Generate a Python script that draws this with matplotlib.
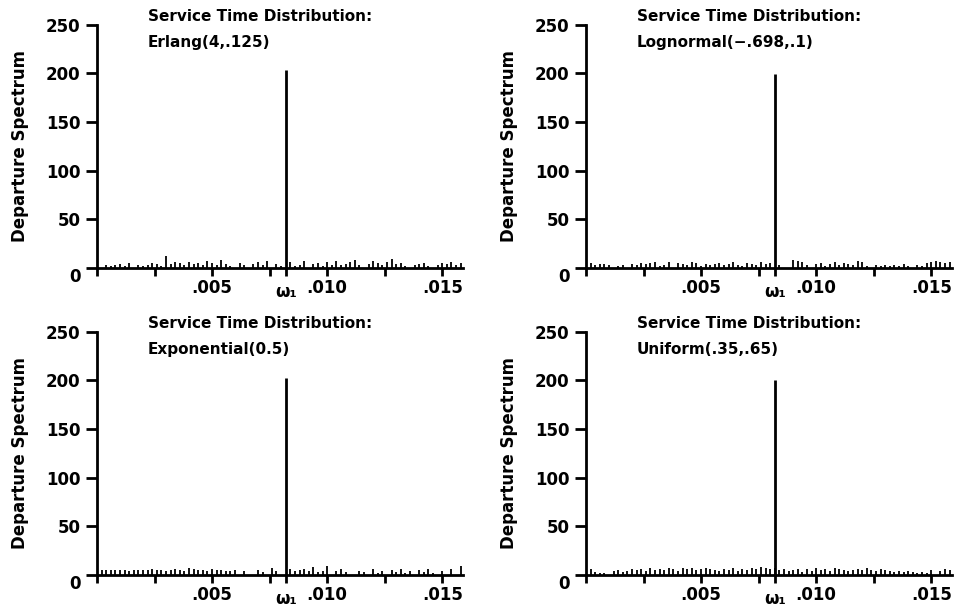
import numpy as np
import matplotlib
matplotlib.use("Agg")
import matplotlib.pyplot as plt

plt.rcParams['font.family'] = ['DejaVu Sans']
plt.rcParams['font.weight'] = 'bold'
plt.rcParams['axes.labelweight'] = 'bold'

titles = ["Erlang(4,.125)", "Lognormal(\u2212.698,.1)",
          "Exponential(0.5)", "Uniform(.35,.65)"]
omega1 = 0.0082
spikes = [204, 199, 203, 200]
freq_step = 0.0002  # frequency grid of the spectrum estimate
freqs = np.arange(1, 80) * freq_step

# small background spectrum values, one list per panel (79 values each)
noise_erlang = [0, 3, 2, 3, 4, 2, 5, 0, 3, 2,
                3, 5, 4, 2, 12, 4, 6, 5, 3, 6,
                4, 5, 3, 7, 5, 3, 8, 4, 2, 0,
                5, 3, 0, 4, 6, 3, 7, 0, 4, 2,
                0, 6, 2, 3, 7, 0, 4, 5, 2, 6,
                3, 7, 3, 4, 6, 8, 3, 0, 4, 7,
                5, 3, 6, 9, 4, 5, 2, 0, 3, 4,
                5, 2, 0, 3, 5, 4, 6, 3, 5]
noise_lognormal = [5, 3, 4, 4, 3, 0, 2, 3, 0, 4,
                   3, 5, 4, 5, 6, 2, 3, 6, 0, 5,
                   4, 3, 6, 5, 2, 4, 3, 4, 5, 3,
                   4, 6, 3, 2, 5, 4, 3, 6, 4, 5,
                   0, 3, 0, 0, 8, 7, 6, 3, 0, 4,
                   5, 2, 4, 6, 3, 5, 4, 3, 7, 6,
                   2, 0, 3, 2, 3, 2, 3, 2, 4, 2,
                   0, 3, 2, 5, 6, 7, 6, 5, 6]
noise_exponential = [5, 5, 5, 5, 5, 5, 4, 5, 5, 5,
                     5, 6, 5, 5, 4, 5, 6, 5, 4, 7,
                     6, 5, 5, 4, 6, 5, 5, 4, 4, 5,
                     0, 4, 0, 0, 5, 3, 0, 7, 4, 0,
                     0, 6, 4, 5, 6, 4, 8, 3, 4, 9,
                     0, 4, 6, 3, 0, 0, 4, 3, 0, 6,
                     2, 4, 0, 5, 3, 6, 2, 4, 0, 5,
                     3, 6, 2, 0, 4, 0, 6, 0, 9]
noise_uniform = [6, 3, 2, 2, 0, 4, 5, 3, 4, 6,
                 5, 6, 4, 7, 5, 6, 5, 7, 6, 4,
                 7, 6, 7, 5, 6, 7, 6, 5, 4, 6,
                 5, 7, 4, 6, 5, 7, 6, 8, 7, 6,
                 7, 5, 6, 4, 5, 6, 3, 6, 4, 7,
                 5, 6, 4, 7, 6, 5, 4, 5, 6, 5,
                 7, 5, 4, 6, 5, 4, 3, 4, 3, 4,
                 3, 2, 3, 2, 5, 0, 4, 6, 5]
noises = [noise_erlang, noise_lognormal, noise_exponential, noise_uniform]

fig = plt.figure(figsize=(9.63, 6.14), dpi=100)
lefts = [0.1007, 0.6085, 0.1007, 0.6085]
bottoms = [0.5635, 0.5635, 0.0635, 0.0635]

for i in range(4):
    ax = fig.add_axes([lefts[i], bottoms[i], 0.380, 0.396])
    ax.vlines(freqs, 0, noises[i], color='black', lw=1.3)
    ax.vlines([omega1], 0, [spikes[i]], color='black', lw=2.0)
    ax.set_xlim(0, 0.0159)
    ax.set_ylim(0, 250)
    for s in ['top', 'right']:
        ax.spines[s].set_visible(False)
    for s in ['left', 'bottom']:
        ax.spines[s].set_linewidth(2.0)
    ax.set_yticks([0, 50, 100, 150, 200, 250])
    ax.set_yticklabels(['0', '50', '100', '150', '200', '250'])
    ax.set_xticks([0, 0.0025, 0.005, 0.0075, omega1, 0.010, 0.0125, 0.015])
    ax.set_xticklabels(['', '', '.005', '', '\u03c9\u2081', '.010', '', '.015'])
    ax.tick_params(axis='y', direction='out', length=8, width=2, labelsize=12, pad=4)
    ax.tick_params(axis='x', direction='out', length=6, width=2, labelsize=12, pad=2)
    for lab in ax.get_xticklabels():
        if lab.get_text() == '\u03c9\u2081':
            lab.set_y(-0.015)
    ax.yaxis.get_ticklabels()[0].set_va('top')
    ax.set_ylabel('Departure Spectrum', fontsize=12, labelpad=12)
    ax.text(0.0022, 259, 'Service Time Distribution:', fontsize=11,
            va='center', ha='left', clip_on=False)
    ax.text(0.0022, 232, titles[i], fontsize=11, va='center', ha='left',
            clip_on=False)

fig.savefig('out.png', dpi=100)
